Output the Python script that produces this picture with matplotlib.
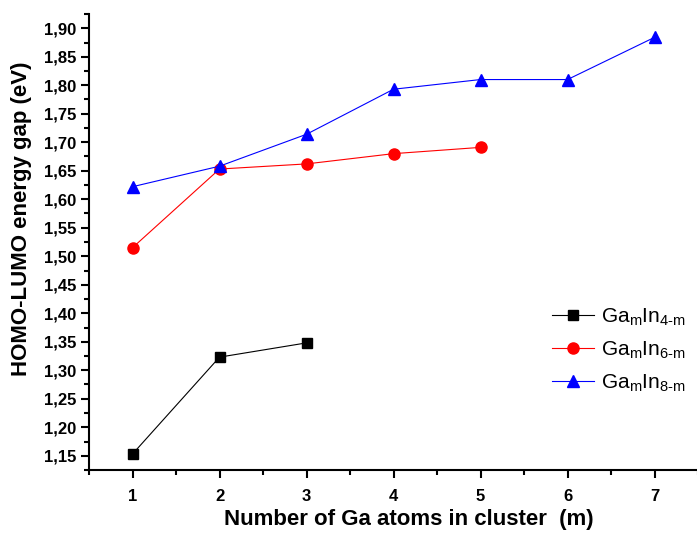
import matplotlib
matplotlib.use('Agg')
import matplotlib.pyplot as plt
from matplotlib.ticker import MultipleLocator, FuncFormatter

plt.rcParams['font.family'] = ['Liberation Sans', 'DejaVu Sans']
plt.rcParams['mathtext.fontset'] = 'custom'
plt.rcParams['mathtext.rm'] = 'Liberation Sans'

# Data
m_4 = [1, 2, 3]
gap_4 = [1.153, 1.323, 1.348]

m_6 = [1, 2, 3, 4, 5]
gap_6 = [1.515, 1.653, 1.662, 1.680, 1.691]

m_8 = [1, 2, 3, 4, 5, 6, 7]
gap_8 = [1.622, 1.658, 1.714, 1.793, 1.810, 1.810, 1.884]

labels = [r'Ga$_\mathregular{m}$In$_\mathregular{4\text{-}m}$',
          r'Ga$_\mathregular{m}$In$_\mathregular{6\text{-}m}$',
          r'Ga$_\mathregular{m}$In$_\mathregular{8\text{-}m}$']

fig = plt.figure(figsize=(6.97, 5.36), dpi=100)
ax = fig.add_axes([89 / 697, 66 / 536, 609 / 697, 456 / 536])

ax.plot(m_4, gap_4, '-', color='black', linewidth=0.8, marker='s', markersize=7, label=labels[0])
ax.plot(m_6, gap_6, '-', color='red', linewidth=0.8, marker='o', markersize=8, label=labels[1])
ax.plot(m_8, gap_8, '-', color='blue', linewidth=0.8, marker='^', markersize=9, label=labels[2])

ax.set_xlim(0.5, 7.5)
ax.set_ylim(1.125, 1.925)

ax.xaxis.set_major_locator(MultipleLocator(1))
ax.xaxis.set_minor_locator(MultipleLocator(0.5))
ax.yaxis.set_major_locator(MultipleLocator(0.05))
ax.yaxis.set_minor_locator(MultipleLocator(0.025))
ax.yaxis.set_major_formatter(FuncFormatter(lambda v, p: f'{v:.2f}'.replace('.', ',')))

ax.spines['top'].set_visible(False)
ax.spines['right'].set_visible(False)
ax.spines['left'].set_linewidth(1.5)
ax.spines['bottom'].set_linewidth(1.5)

ax.tick_params(which='major', direction='out', length=6, width=1.5, labelsize=12)
ax.tick_params(which='minor', direction='out', length=3.5, width=1.5)
for lab in ax.get_xticklabels() + ax.get_yticklabels():
    lab.set_fontweight('bold')
ax.tick_params(axis='x', pad=8)
ax.tick_params(axis='y', pad=3)

ax.set_xlabel('Number of Ga atoms in cluster  (m)', fontsize=16, fontweight='bold')
ax.set_ylabel('HOMO-LUMO energy gap (eV)', fontsize=16, fontweight='bold')
ax.xaxis.set_label_coords(0.525, -0.085)
ax.yaxis.set_label_coords(-0.094, 0.55)

ax.legend(loc='center right', bbox_to_anchor=(1.01, 0.263), frameon=False, fontsize=15,
          handlelength=2.05, handletextpad=0.3, labelspacing=0.55)

fig.savefig('out.png', dpi=100)
